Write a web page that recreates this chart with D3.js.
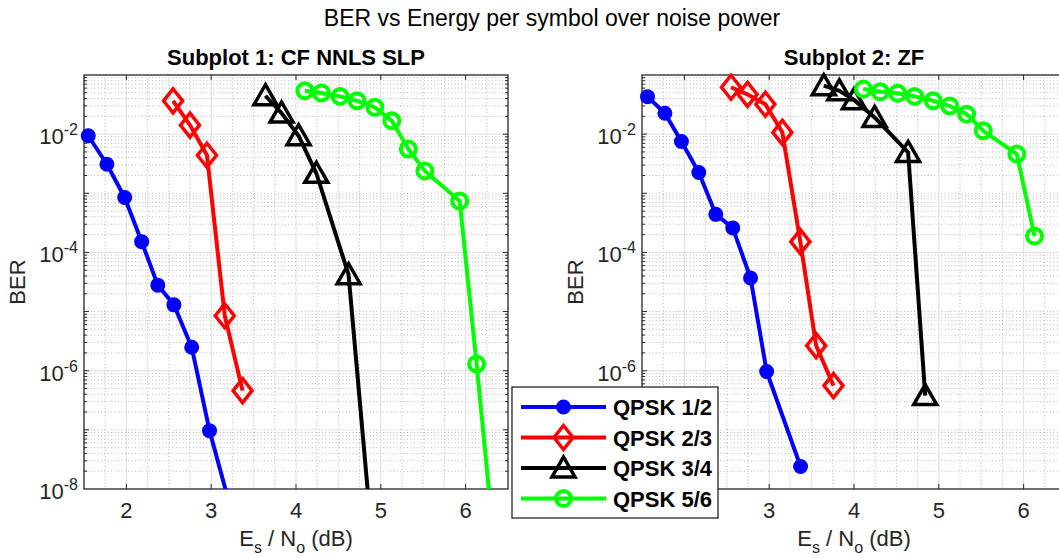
<!DOCTYPE html>
<meta charset="utf-8">
<style>
  body { margin: 0; background: #fff; }
  svg { display: block; font-family: "Liberation Sans", Arial, sans-serif; }
  .major { stroke: #dedede; stroke-width: 1; }
  .minor { stroke: #b4b4b4; stroke-width: 1; stroke-dasharray: 1,2.4; }
  .box { fill: none; stroke: #262626; stroke-width: 1.3; }
  .tick { stroke: #262626; stroke-width: 1; }
  .lbl { fill: #262626; font-size: 22px; }
  .series { fill: none; stroke-width: 4; stroke-linejoin: round; }
  .legend { fill: #fff; stroke: #262626; stroke-width: 1.3; }
</style>
<body>
<script src="https://cdn.jsdelivr.net/npm/d3@7"></script>
<script>
  // tick values
  var xTicks = [2, 3, 4, 5, 6];
  var yTickExps = [-8, -6, -4, -2];

  var seriesNames = ["QPSK 1/2", "QPSK 2/3", "QPSK 3/4", "QPSK 5/6"];
  var seriesColors = ["#0000ff", "#ff0000", "#000000", "#00ff00"];
  var seriesMarkers = ["dot", "diamond", "triangle", "circle"];

  // Subplot 1: CF NNLS SLP
  var slpEs12 = [1.55, 1.77, 1.98, 2.18, 2.37, 2.56, 2.77, 2.98, 3.18];
  var slpBer12 = [9.4e-3, 3.1e-3, 8.5e-4, 1.52e-4, 2.8e-5, 1.3e-5, 2.5e-6, 9.7e-8, 8.6e-9];
  var slpEs23 = [2.55, 2.75, 2.95, 3.16, 3.37];
  var slpBer23 = [3.66e-2, 1.42e-2, 4.4e-3, 8.5e-6, 4.6e-7];
  var slpEs34 = [3.64, 3.83, 4.03, 4.24, 4.62, 4.85];
  var slpBer34 = [4.46e-2, 2.27e-2, 9.4e-3, 2.18e-3, 4.2e-5, 8e-9];
  var slpEs56 = [4.105, 4.30, 4.52, 4.72, 4.93, 5.13, 5.325, 5.52, 5.93, 6.13, 6.33];
  var slpBer56 = [5.4e-2, 4.96e-2, 4.35e-2, 3.66e-2, 2.84e-2, 1.68e-2, 5.6e-3, 2.39e-3, 7.4e-4, 1.3e-6, 1.5e-9];

  // Subplot 2: ZF
  var zfEs12 = [1.565, 1.77, 1.965, 2.17, 2.37, 2.57, 2.78, 2.97, 3.37];
  var zfBer12 = [4.3e-2, 2.25e-2, 7.5e-3, 2.24e-3, 4.4e-4, 2.6e-4, 3.7e-5, 9.7e-7, 2.4e-8];
  var zfEs23 = [2.55, 2.745, 2.955, 3.155, 3.367, 3.554, 3.758];
  var zfBer23 = [6.2e-2, 4.7e-2, 3.2e-2, 1.07e-2, 1.52e-4, 2.65e-6, 5.6e-7];
  var zfEs34 = [3.644, 3.828, 4.0, 4.243, 4.638, 4.84];
  var zfBer34 = [6.6e-2, 5.4e-2, 3.8e-2, 1.92e-2, 4.9e-3, 3.8e-7];
  var zfEs56 = [4.11, 4.31, 4.515, 4.716, 4.934, 5.13, 5.328, 5.525, 5.92, 6.129];
  var zfBer56 = [5.8e-2, 5.2e-2, 4.9e-2, 4.35e-2, 3.66e-2, 3.0e-2, 2.18e-2, 1.14e-2, 4.6e-3, 1.89e-4];

  var panels = [
    { title: "Subplot 1: CF NNLS SLP", left: 84,
      es: [slpEs12, slpEs23, slpEs34, slpEs56], ber: [slpBer12, slpBer23, slpBer34, slpBer56] },
    { title: "Subplot 2: ZF", left: 642,
      es: [zfEs12, zfEs23, zfEs34, zfEs56], ber: [zfBer12, zfBer23, zfBer34, zfBer56] }
  ];

  var width = 1059, height = 558,
    pw = 424, pTop = 75, pBottom = 489;

  // legend box (tick labels hidden under it are skipped)
  var leg = { x: 512, y: 387, w: 206, h: 131 };
  function underLegend(px, py) {
    return px > leg.x && px < leg.x + leg.w + 20 && py > leg.y && py < leg.y + leg.h + 20;
  }

  var svg = d3.select("body").append("svg")
    .attr("width", width)
    .attr("height", height);

  svg.append("text")
    .attr("x", 552).attr("y", 26)
    .attr("text-anchor", "middle")
    .style("font-size", "23px")
    .style("fill", "#000")
    .text("BER vs Energy per symbol over noise power");

  function marker(g, type, color, cx, cy) {
    if (type == "dot") {
      g.append("circle").attr("cx", cx).attr("cy", cy).attr("r", 6.5)
        .attr("fill", color).attr("stroke", color).attr("stroke-width", 2);
    } else if (type == "circle") {
      g.append("circle").attr("cx", cx).attr("cy", cy).attr("r", 7.5)
        .attr("fill", "none").attr("stroke", color).attr("stroke-width", 4);
    } else if (type == "diamond") {
      g.append("path")
        .attr("d", "M" + cx + "," + (cy - 12) + "L" + (cx + 9.5) + "," + cy +
          "L" + cx + "," + (cy + 12) + "L" + (cx - 9.5) + "," + cy + "Z")
        .attr("fill", "none").attr("stroke", color).attr("stroke-width", 3.5);
    } else {
      g.append("path")
        .attr("d", "M" + cx + "," + (cy - 11) + "L" + (cx + 11.5) + "," + (cy + 9) +
          "L" + (cx - 11.5) + "," + (cy + 9) + "Z")
        .attr("fill", "none").attr("stroke", color).attr("stroke-width", 3.5);
    }
  }

  panels.forEach(function(p, pi) {
    var x = d3.scaleLinear().domain([1.5, 6.5]).range([p.left, p.left + pw]);
    var y = d3.scaleLog().domain([1e-8, 1e-1]).range([pBottom, pTop]);
    var g = svg.append("g");

    // minor grid
    var xMinor = d3.range(1.75, 6.5, 0.25).filter(function(v) { return v % 1 != 0; });
    var yMinor = [], yAll = [];
    for (var k = -8; k <= -2; k++) {
      for (var m = 1; m <= 9; m++) {
        var v = m * Math.pow(10, k);
        if (v > 1e-8 && v < 0.099) yAll.push(v);
        if (m == 1 && k % 2 == 0) continue;
        if (v < 0.099) yMinor.push(v);
      }
    }
    g.selectAll(".xm").data(xMinor).enter().append("line")
      .attr("class", "minor")
      .attr("x1", x).attr("x2", x).attr("y1", pTop).attr("y2", pBottom);
    g.selectAll(".ym").data(yMinor).enter().append("line")
      .attr("class", "minor")
      .attr("x1", p.left).attr("x2", p.left + pw)
      .attr("y1", y).attr("y2", y);
    // major grid
    g.selectAll(".xg").data(xTicks).enter().append("line")
      .attr("class", "major")
      .attr("x1", x).attr("x2", x).attr("y1", pTop).attr("y2", pBottom);
    g.selectAll(".yg").data(yTickExps.slice(1)).enter().append("line")
      .attr("class", "major")
      .attr("x1", p.left).attr("x2", p.left + pw)
      .attr("y1", function(e) { return y(Math.pow(10, e)); })
      .attr("y2", function(e) { return y(Math.pow(10, e)); });

    // box and ticks
    g.append("rect").attr("class", "box")
      .attr("x", p.left).attr("y", pTop).attr("width", pw).attr("height", pBottom - pTop);
    xTicks.forEach(function(t) {
      g.append("line").attr("class", "tick")
        .attr("x1", x(t)).attr("x2", x(t)).attr("y1", pBottom).attr("y2", pBottom - 5);
      g.append("line").attr("class", "tick")
        .attr("x1", x(t)).attr("x2", x(t)).attr("y1", pTop).attr("y2", pTop + 5);
      if (!underLegend(x(t), 510))
        g.append("text").attr("class", "lbl")
          .attr("x", x(t)).attr("y", 518).attr("text-anchor", "middle").text(t);
    });
    yAll.forEach(function(v) {
      var len = (Math.abs(Math.log10(v) - Math.round(Math.log10(v))) < 1e-9) ? 5 : 3;
      g.append("line").attr("class", "tick")
        .attr("x1", p.left).attr("x2", p.left + len).attr("y1", y(v)).attr("y2", y(v));
      g.append("line").attr("class", "tick")
        .attr("x1", p.left + pw).attr("x2", p.left + pw - len).attr("y1", y(v)).attr("y2", y(v));
    });
    yTickExps.forEach(function(e) {
      var ty = y(Math.pow(10, e));
      if (underLegend(p.left - 20, ty)) return;
      var t = g.append("text").attr("class", "lbl")
        .attr("x", p.left - 6).attr("y", ty + 10)
        .attr("text-anchor", "end");
      t.append("tspan").text("10");
      t.append("tspan").attr("dy", -9).style("font-size", "16px").text(e);
    });

    // labels
    g.append("text")
      .attr("x", p.left + pw / 2).attr("y", 65)
      .attr("text-anchor", "middle")
      .style("font-size", "22px").style("font-weight", "bold")
      .text(p.title);
    g.append("text").attr("class", "lbl")
      .attr("transform", "translate(" + (p.left - 59) + "," + ((pTop + pBottom) / 2) + ") rotate(-90)")
      .attr("text-anchor", "middle")
      .text("BER");
    var xl = g.append("text").attr("class", "lbl")
      .attr("x", p.left + pw / 2).attr("y", 546)
      .attr("text-anchor", "middle");
    xl.append("tspan").text("E");
    xl.append("tspan").attr("dy", 7).style("font-size", "16px").text("s");
    xl.append("tspan").attr("dy", -7).text(" / N");
    xl.append("tspan").attr("dy", 7).style("font-size", "16px").text("o");
    xl.append("tspan").attr("dy", -7).text(" (dB)");

    // data
    var clipId = "clip" + pi;
    svg.append("clipPath").attr("id", clipId)
      .append("rect").attr("x", p.left).attr("y", pTop).attr("width", pw).attr("height", pBottom - pTop);
    var line = d3.line()
      .x(function(d) { return x(d[0]); })
      .y(function(d) { return y(d[1]); });
    p.es.forEach(function(es, si) {
      var pts = es.map(function(e, i) { return [e, p.ber[si][i]]; });
      g.append("path").attr("class", "series")
        .attr("clip-path", "url(#" + clipId + ")")
        .attr("stroke", seriesColors[si])
        .attr("d", line(pts));
      pts.forEach(function(d) {
        if (d[1] >= 1e-8 && d[1] <= 1e-1)
          marker(g, seriesMarkers[si], seriesColors[si], x(d[0]), y(d[1]));
      });
    });
  });

  // legend
  var lg = svg.append("g");
  lg.append("rect").attr("class", "legend")
    .attr("x", leg.x).attr("y", leg.y).attr("width", leg.w).attr("height", leg.h);
  seriesNames.forEach(function(n, i) {
    var ly = 407 + i * 30.5;
    lg.append("line")
      .attr("x1", 521).attr("x2", 606).attr("y1", ly).attr("y2", ly)
      .attr("stroke", seriesColors[i]).attr("stroke-width", 4);
    marker(lg, seriesMarkers[i], seriesColors[i], 563.5, ly);
    lg.append("text")
      .attr("x", 613).attr("y", ly + 8)
      .style("font-size", "22px").style("font-weight", "bold")
      .text(n);
  });
</script>
</body>
